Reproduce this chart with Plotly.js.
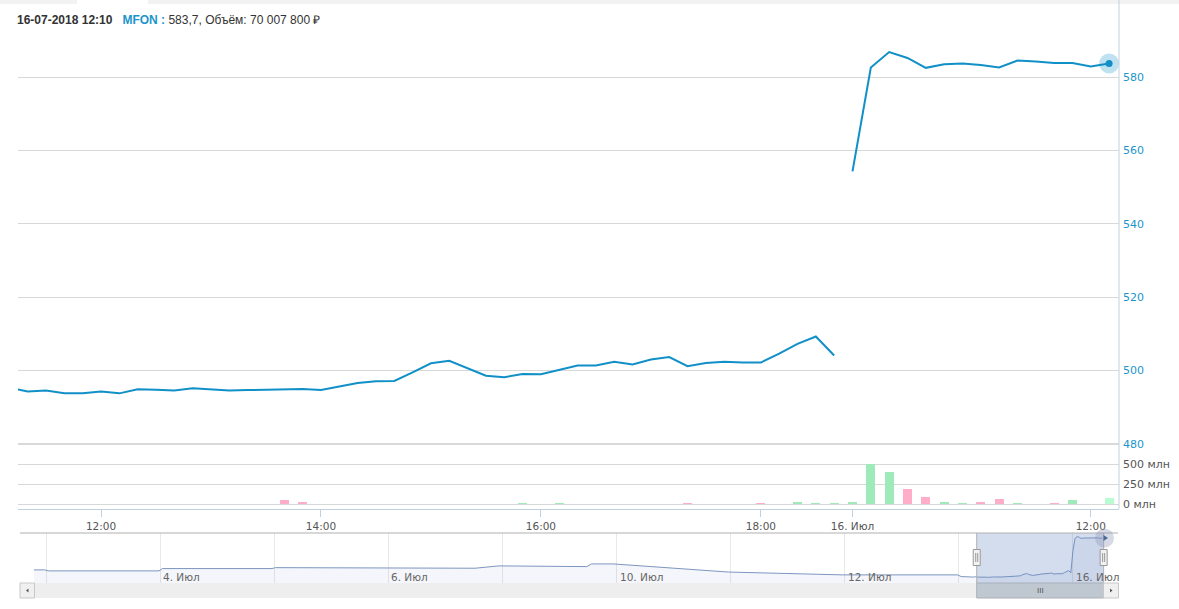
<!DOCTYPE html>
<html>
<head>
<meta charset="utf-8">
<script src="https://cdn.plot.ly/plotly-3.0.1.min.js"></script>
<style>
  html, body { margin: 0; padding: 0; background: #ffffff; }
  #chart { width: 1179px; height: 609px; }
</style>
</head>
<body>
<div id="chart"></div>
<script>
// ---------- DATA (10-minute candles, MFON) ----------
// 13 Jul 2018 11:10 ... 18:40 (46 points), then 16 Jul 2018 09:50 ... 12:10 (15 points)
const prices = [
  495.3, 494.3, 494.6, 493.8, 493.8, 494.3, 493.8, 494.9, 494.8, 494.6,
  495.2, 494.8, 494.6, 494.7, 494.8, 495.1, 495.0, 494.7, 495.7, 496.6,
  497.1, 497.2, 499.5, 502.0, 502.7, 500.7, 498.6, 498.2, 499.1, 499.0,
  500.1, 501.4, 501.4, 502.4, 501.7, 503.0, 503.7, 501.2, 502.1, 502.4,
  502.2, 502.2, 504.6, 507.3, 509.3, 504.1,
  554.3, 582.6, 586.8, 585.2, 582.5, 583.5, 583.7, 583.3, 582.6, 584.5,
  584.2, 583.8, 583.8, 582.9, 583.7
];
const sessionSplit = 46; // first index of 16 Jul

// volume, million RUB
const volumes = [
  0, 0, 0, 0, 0, 0, 0, 0, 0, 0,
  0, 0, 0, 0, 0, 54, 29, 0, 5, 0,
  0, 5, 0, 5, 5, 0, 0, 0, 17, 0,
  17, 0, 0, 0, 4, 4, 0, 15, 0, 4,
  0, 15, 4, 28, 16, 18,
  28, 496, 400, 187, 87, 28, 16, 28, 62, 16,
  5, 14, 50, 5, 70
];
const volDir = [
  'u','u','u','u','u','u','u','u','u','u',
  'u','u','u','u','u','d','d','u','u','u',
  'u','u','u','u','u','u','u','u','u','u',
  'u','u','u','u','d','u','u','d','u','u',
  'u','d','u','u','u','u',
  'u','u','u','d','d','u','u','d','d','u',
  'd','d','u','d','h'
];

const xTickIdx  = [5, 17, 29, 41, 46, 59];
const xTickText = ['12:00', '14:00', '16:00', '18:00', '16. Июл', '12:00'];
const yTickVals = [480, 500, 520, 540, 560, 580];
const volTickVals = [0, 250, 500];
const volTickText = ['0 млн', '250 млн', '500 млн'];

// navigator (overview) series: position in trading days from 3 Jul, price
const navPos = [-0.105, -0.01, 0.02, 0.99, 1.02, 1.98, 2.01, 2.96, 2.99, 3.76, 3.97, 4.74, 4.78, 4.97, 5.98, 6.98, 7.99, 8.02, 8.13];
const navVal = [510.9, 510.9, 508.6, 508.6, 513.9, 513.9, 516.0, 516.0, 514.7, 514.7, 520.0, 518.4, 524.5, 524.5, 506.0, 499.5, 499.5, 495.7, 494.5];
const navLabelDay  = [1, 3, 5, 7, 9];
const navLabelText = ['4. Июл', '6. Июл', '10. Июл', '12. Июл', '16. Июл'];

const headerDate = '16-07-2018 12:10';
const ticker = 'MFON';
const lastPriceText = '583,7';
const lastVolumeText = '70 007 800 ₽';

// ---------- helpers ----------
const W = 1179, H = 609;
const L = 18, R = 1119, T = 4, B = 583;
const px2x = p => (p - L) / (R - L);
const py2y = p => (B - p) / (B - T);
const idx = prices.map((_, i) => i);
const candlesPerDay = 54;
const idxToNav = i => i < sessionSplit ? 8 + (i + 8) / candlesPerDay : 9 + (i - sessionSplit) / candlesPerDay;
const mainRange = [0.47, 60.54];
const navRange = [-0.228, 9.395];

const LINE = '#1190C8';
const colorMap = { u: '#9EEBB9', d: '#FFADC9', h: '#B8FCD2' };

// traces
const traces = [
  { x: idx.slice(0, sessionSplit), y: prices.slice(0, sessionSplit), xaxis: 'x', yaxis: 'y',
    type: 'scatter', mode: 'lines', line: { color: LINE, width: 2 }, hoverinfo: 'skip' },
  { x: idx.slice(sessionSplit), y: prices.slice(sessionSplit), xaxis: 'x', yaxis: 'y',
    type: 'scatter', mode: 'lines', line: { color: LINE, width: 2 }, hoverinfo: 'skip' },
  { x: [idx[idx.length - 1]], y: [prices[prices.length - 1]], xaxis: 'x', yaxis: 'y',
    type: 'scatter', mode: 'markers', cliponaxis: false,
    marker: { size: 20, color: 'rgba(17,144,200,0.27)' }, hoverinfo: 'skip' },
  { x: [idx[idx.length - 1]], y: [prices[prices.length - 1]], xaxis: 'x', yaxis: 'y',
    type: 'scatter', mode: 'markers', cliponaxis: false,
    marker: { size: 7, color: LINE }, hoverinfo: 'skip' },
  { x: idx, y: volumes, xaxis: 'x', yaxis: 'y2', type: 'bar', width: 0.49,
    marker: { color: volDir.map(d => colorMap[d]), line: { width: 0 } }, hoverinfo: 'skip' },
  { x: navPos.concat(idx.map(idxToNav)), y: navVal.concat(prices), xaxis: 'x2', yaxis: 'y3',
    type: 'scatter', mode: 'lines', line: { color: '#7D96BF', width: 1 },
    fill: 'tozeroy', fillcolor: 'rgba(102,133,194,0.07)', hoverinfo: 'skip' }
];

const selA = idxToNav(0) + (mainRange[0]) / candlesPerDay;
const selB = 9 + (mainRange[1] - sessionSplit) / candlesPerDay;

const fontAx = 'DejaVu Sans';
const shapes = [
  // top tab strip
  { type: 'rect', xref: 'paper', yref: 'paper', x0: px2x(0), x1: px2x(77), y0: py2y(0), y1: py2y(4), fillcolor: '#F2F2F2', line: { width: 0 }, layer: 'below' },
  { type: 'rect', xref: 'paper', yref: 'paper', x0: px2x(148), x1: px2x(1179), y0: py2y(0), y1: py2y(4), fillcolor: '#F2F2F2', line: { width: 0 }, layer: 'below' },
  // right axis line
  { type: 'line', xref: 'paper', yref: 'paper', x0: 1, x1: 1, y0: py2y(0), y1: py2y(509), line: { color: '#C0D0E0', width: 1 } },
  // pane border at 480
  { type: 'line', xref: 'paper', yref: 'paper', x0: 0, x1: 1, y0: py2y(444), y1: py2y(444), line: { color: '#CCCCCC', width: 1.5 } },
  // navigator selection
  { type: 'rect', xref: 'x2', yref: 'paper', x0: selA, x1: selB, y0: py2y(583), y1: py2y(533), fillcolor: 'rgba(102,133,194,0.28)', line: { width: 0 } },
  { type: 'line', xref: 'x2', yref: 'paper', x0: selA, x1: selA, y0: py2y(583), y1: py2y(533), line: { color: '#B0B0B0', width: 1 } },
  { type: 'line', xref: 'x2', yref: 'paper', x0: selB, x1: selB, y0: py2y(583), y1: py2y(533), line: { color: '#B0B0B0', width: 1 } },
  // navigator top border
  { type: 'line', xref: 'paper', yref: 'paper', x0: px2x(20), x1: px2x(1118), y0: py2y(533), y1: py2y(533), line: { color: '#B0B0B0', width: 1 } },
  // scrollbar track
  { type: 'rect', xref: 'paper', yref: 'paper', x0: px2x(20), x1: px2x(1118.5), y0: py2y(598), y1: py2y(583), fillcolor: '#EEEEEE', line: { width: 0 } },
  // left button
  { type: 'rect', xref: 'paper', yref: 'paper', x0: px2x(20), x1: px2x(34.5), y0: py2y(598), y1: py2y(583), fillcolor: '#F0F0F0', line: { color: '#C8C8C8', width: 1 } },
  { type: 'path', xref: 'paper', yref: 'paper',
    path: `M ${px2x(26)} ${py2y(590.5)} L ${px2x(28.5)} ${py2y(588.5)} L ${px2x(28.5)} ${py2y(592.5)} Z`, fillcolor: '#555', line: { width: 0 } },
  // thumb
  { type: 'rect', xref: 'x2', yref: 'paper', x0: selA, x1: selB, y0: py2y(598), y1: py2y(583), fillcolor: '#BFC7D0', line: { color: '#A8B0BA', width: 1 } },
  // right button
  { type: 'rect', xref: 'paper', yref: 'paper', x0: px2x(1103.5), x1: px2x(1118.5), y0: py2y(598), y1: py2y(583), fillcolor: '#F0F0F0', line: { color: '#C8C8C8', width: 1 } },
  { type: 'path', xref: 'paper', yref: 'paper',
    path: `M ${px2x(1112.5)} ${py2y(590.5)} L ${px2x(1110)} ${py2y(588.5)} L ${px2x(1110)} ${py2y(592.5)} Z`, fillcolor: '#555', line: { width: 0 } },
  // handles
  ...[selA, selB].flatMap(s => [
    { type: 'rect', xref: 'x2', yref: 'paper', x0: s - 3.5 / 114.1, x1: s + 3.5 / 114.1, y0: py2y(565.5), y1: py2y(549.5), fillcolor: '#F2F2F2', line: { color: '#999999', width: 1 } },
    { type: 'line', xref: 'x2', yref: 'paper', x0: s - 1 / 114.1, x1: s - 1 / 114.1, y0: py2y(562), y1: py2y(553), line: { color: '#999999', width: 1 } },
    { type: 'line', xref: 'x2', yref: 'paper', x0: s + 1 / 114.1, x1: s + 1 / 114.1, y0: py2y(562), y1: py2y(553), line: { color: '#999999', width: 1 } }
  ]),
  // navigator hover halo at the end
  { type: 'circle', xref: 'paper', yref: 'paper', x0: px2x(1095), x1: px2x(1114), y0: py2y(547.5), y1: py2y(528.5), fillcolor: 'rgba(140,150,180,0.35)', line: { width: 0 } },
  { type: 'path', xref: 'paper', yref: 'paper',
    path: `M ${px2x(1108)} ${py2y(538)} L ${px2x(1103.5)} ${py2y(535)} L ${px2x(1103.5)} ${py2y(541)} Z`, fillcolor: '#4A6A9A', line: { width: 0 } }
];

const annotations = [
  { xref: 'paper', yref: 'paper', x: px2x(15), y: py2y(20), xanchor: 'left', yanchor: 'middle', showarrow: false,
    font: { family: 'Liberation Sans', size: 12, color: '#333333' },
    text: '<b>' + headerDate + '</b>\u00a0\u00a0\u00a0<span style="color:#1B95CC"><b>' + ticker + ' :</b></span> ' +
          lastPriceText + ', Объём: ' + lastVolumeText },
  ...navLabelDay.map((d, k) => ({
    xref: 'x2', yref: 'paper', x: d, y: py2y(576.5), xanchor: 'left', yanchor: 'middle', xshift: 1,
    showarrow: false, text: navLabelText[k], font: { family: fontAx, size: 10.5, color: '#666666' }
  })),
  { xref: 'x2', yref: 'paper', x: (selA + selB) / 2, y: py2y(590.5), xanchor: 'center', yanchor: 'middle',
    showarrow: false, text: 'III', font: { family: 'Liberation Sans', size: 8, color: '#555555' } }
];

const layout = {
  width: W, height: H,
  margin: { l: L, r: W - R, t: T, b: H - B, pad: 0 },
  paper_bgcolor: '#FFFFFF', plot_bgcolor: '#FFFFFF',
  showlegend: false, hovermode: false, bargap: 0,
  xaxis: {
    domain: [0, 1], anchor: 'y2', range: mainRange,
    tickmode: 'array', tickvals: xTickIdx, ticktext: xTickText,
    showgrid: false, zeroline: false, showline: true, linecolor: '#C0D0E0', linewidth: 1,
    ticks: 'outside', ticklen: 7, tickcolor: '#C0D0E0', tickwidth: 1,
    tickfont: { family: fontAx, size: 10.5, color: '#555555' }, fixedrange: true
  },
  yaxis: {
    domain: [py2y(444), 1], anchor: 'x', side: 'right', range: [480, 599.9],
    tickmode: 'array', tickvals: yTickVals, ticktext: yTickVals.map(String),
    showgrid: true, gridcolor: '#D8D8D8', gridwidth: 1, zeroline: false, showline: false, ticks: '',
    tickfont: { family: fontAx, size: 11, color: '#1B95CC' }, ticklabelstandoff: 3, fixedrange: true
  },
  yaxis2: {
    domain: [py2y(509), py2y(444)], anchor: 'x', side: 'right', range: [-62.5, 750],
    tickmode: 'array', tickvals: volTickVals, ticktext: volTickText,
    showgrid: true, gridcolor: '#D8D8D8', gridwidth: 1, zeroline: false, showline: false, ticks: '',
    tickfont: { family: fontAx, size: 11, color: '#555555' }, ticklabelstandoff: 3, fixedrange: true
  },
  xaxis2: {
    domain: [px2x(20), px2x(1118)], anchor: 'y3', range: navRange,
    tickmode: 'array', tickvals: [0, 1, 2, 3, 4, 5, 6, 7, 8, 9], showticklabels: false,
    showgrid: true, gridcolor: '#E8E8E8', gridwidth: 1, zeroline: false, showline: false, ticks: '', fixedrange: true
  },
  yaxis3: {
    domain: [0, py2y(533)], anchor: 'x2', range: [481, 595],
    showgrid: false, zeroline: false, showline: false, showticklabels: false, ticks: '', fixedrange: true
  },
  shapes: shapes,
  annotations: annotations
};

Plotly.newPlot('chart', traces, layout, { displayModeBar: false, staticPlot: true });
</script>
</body>
</html>
